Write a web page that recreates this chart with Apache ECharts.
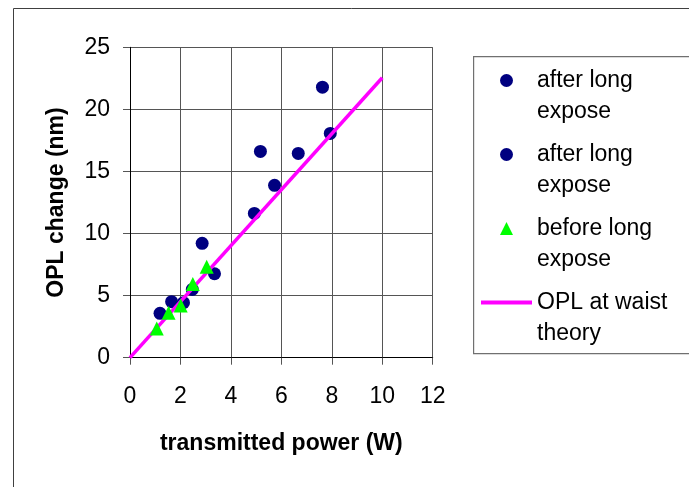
<!DOCTYPE html>
<html>
<head>
<meta charset="utf-8">
<script src="https://cdn.jsdelivr.net/npm/echarts@6/dist/echarts.min.js"></script>
<style>
html,body{margin:0;padding:0;background:#fff;}
#chart{width:689px;height:487px;}
</style>
</head>
<body>
<div id="chart"></div>
<script>
// Data
const seriesNames = ['after long expose', 'after long expose', 'before long expose', 'OPL at waist theory'];
const legendLabels = ['after long\nexpose', 'after long\nexpose', 'before long\nexpose', 'OPL at waist\ntheory'];
const afterA = [[1.19, 3.57], [1.65, 4.51], [2.12, 4.43], [2.47, 5.50], [2.86, 9.21], [3.35, 6.76]];
const afterB = [[4.93, 11.62], [5.17, 16.61], [5.73, 13.88], [6.67, 16.45], [7.63, 21.79], [7.94, 18.06]];
const before = [[1.06, 2.36], [1.53, 3.62], [2.01, 4.21], [2.49, 5.93], [3.04, 7.33]];
const theory = [[0, 0], [10, 22.55]];
const xTicks = [0, 2, 4, 6, 8, 10, 12];
const yTicks = [0, 5, 10, 15, 20, 25];

const ids = ['s0', 's1', 's2', 's3'];
const FONT = 'Liberation Sans, Arial, sans-serif';
const TRI = 'path://M0,-1L1,1L-1,1Z';

const chart = echarts.init(document.getElementById('chart'), null, {renderer: 'canvas'});
const option = {
  animation: false,
  backgroundColor: '#fff',
  textStyle: {fontFamily: FONT},
  graphic: [
    {type: 'rect', left: 11, top: 6, shape: {x: 0, y: 0, width: 720, height: 520}, style: {fill: 'none', stroke: '#404040', lineWidth: 1}, silent: true, z: -1},
    {type: 'rect', left: 473, top: 56, shape: {x: 0, y: 0, width: 260, height: 297}, style: {fill: '#fff', stroke: '#707070', lineWidth: 1.2}, silent: true, z: 0}
  ],
  grid: {left: 130, right: 256.3, top: 47.3, bottom: 129.3, containLabel: false},
  xAxis: {
    type: 'value', min: xTicks[0], max: xTicks[xTicks.length - 1], interval: 2,
    name: 'transmitted power (W)', nameLocation: 'middle', nameGap: 74,
    nameTextStyle: {fontSize: 23, fontWeight: 'bold', color: '#000', fontFamily: FONT},
    axisLine: {show: true, onZero: false, lineStyle: {color: '#000', width: 1}},
    axisTick: {show: true, inside: false, length: 7, lineStyle: {color: '#555'}},
    axisLabel: {fontSize: 23, color: '#000', margin: 27, fontFamily: FONT},
    splitLine: {show: true, lineStyle: {color: '#555', width: 1}}
  },
  yAxis: {
    type: 'value', min: yTicks[0], max: yTicks[yTicks.length - 1], interval: 5,
    name: 'OPL change (nm)', nameLocation: 'middle', nameGap: 62,
    nameTextStyle: {fontSize: 23, fontWeight: 'bold', color: '#000', fontFamily: FONT},
    axisLine: {show: true, onZero: false, lineStyle: {color: '#000', width: 1}},
    axisTick: {show: true, inside: false, length: 7, lineStyle: {color: '#555'}},
    axisLabel: {fontSize: 23, color: '#000', margin: 20, fontFamily: FONT},
    splitLine: {show: true, lineStyle: {color: '#555', width: 1}}
  },
  legend: {
    orient: 'vertical', left: 479, top: 80.5 - 46.5, padding: 0,
    itemWidth: 51, itemHeight: 13, itemGap: -19,
    data: [
      {name: 's0', icon: 'circle'},
      {name: 's1', icon: 'circle'},
      {name: 's2', icon: TRI},
      {name: 's3', itemStyle: {opacity: 0}, lineStyle: {width: 4, color: '#FF00FF'}}
    ],
    formatter: function (name) { return '\n' + legendLabels[ids.indexOf(name)]; },
    textStyle: {fontSize: 23, lineHeight: 31, color: '#000', fontFamily: FONT},
    selectedMode: false
  },
  series: [
    {id: 's0', name: 's0', type: 'scatter', data: afterA, symbol: 'circle', symbolSize: 13, itemStyle: {color: '#000080', opacity: 1}, z: 3},
    {id: 's1', name: 's1', type: 'scatter', data: afterB, symbol: 'circle', symbolSize: 13, itemStyle: {color: '#000080', opacity: 1}, z: 3},
    {id: 's2', name: 's2', type: 'scatter', data: before, symbol: TRI, symbolSize: 14, itemStyle: {color: '#00FF00', opacity: 1}, z: 5},
    {id: 's3', name: 's3', type: 'line', data: theory, symbol: 'none', lineStyle: {color: '#FF00FF', width: 3.5}, itemStyle: {color: '#FF00FF'}, z: 4}
  ]
};
chart.setOption(option);
</script>
</body>
</html>
